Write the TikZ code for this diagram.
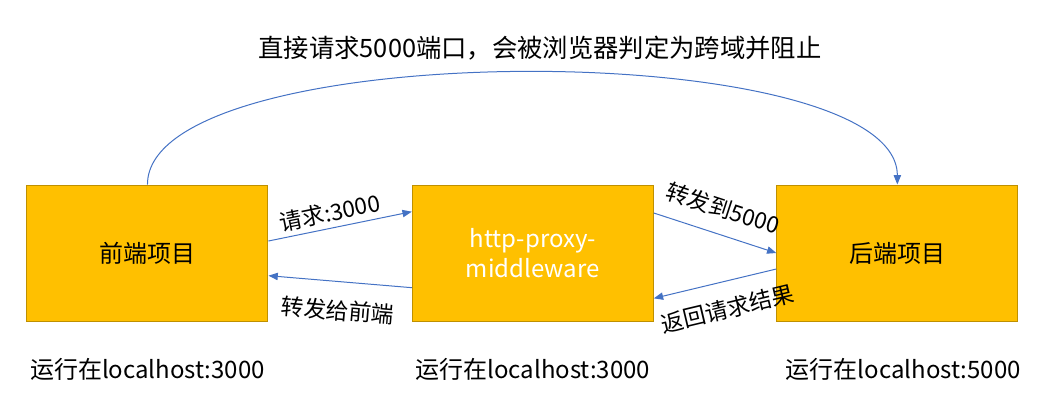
\documentclass[tikz,border=0pt]{standalone}
\usepackage{fontspec}
\setmainfont{Noto Sans CJK SC}
\usetikzlibrary{positioning,arrows.meta}

\definecolor{boxfill}{HTML}{FFC000}
\definecolor{boxline}{HTML}{BF9000}
\definecolor{linkblue}{HTML}{4472C4}

\tikzset{
	block/.style={draw=boxline, fill=boxfill, line width=0.75pt, minimum width=180.75pt, minimum height=102pt, font=\fontsize{18}{22}\selectfont},
	hint/.style={font=\fontsize{18}{22}\selectfont},
	tag/.style={font=\fontsize{17}{20}\selectfont, sloped, text=black}
}

\begin{document}
\begin{tikzpicture}[>={Triangle[length=7pt,width=5.5pt]}, node distance=2cm, on grid, line width=0.75pt]
	\useasboundingbox (0,0) rectangle (786pt,-303.75pt);
	
	\node[block] (front) at (110.6pt,-189.75pt) {前端项目};
	\node[block, text=white, align=center] (proxy) [right=289pt of front] {http-proxy-\\middleware};
	\node[block] (back) [right=273.4pt of proxy] {后端项目};
	
	\node[hint, font=\fontsize{19}{22}\selectfont] (title) at (405pt,-36pt) {直接请求5000端口，会被浏览器判定为跨域并阻止};
	\node[hint] (runfront) [below=87pt of front] {运行在localhost:3000};
	\node[hint] (runproxy) [below=87pt of proxy] {运行在localhost:3000};
	\node[hint] (runback) [below=87pt of back, xshift=4.5pt] {运行在localhost:5000};
	
	\path[->, color=linkblue]
		([yshift=9pt]front.east) edge node[tag, above, pos=0.45] {请求:3000} ([yshift=31pt]proxy.west)
		([yshift=-26pt]proxy.west) edge node[tag, below=10pt] {转发给前端} ([yshift=-17pt]front.east)
		([yshift=30pt]proxy.east) edge node[tag, above=8pt] {转发到5000} (back.west)
		([yshift=-12pt]back.west) edge node[tag, below=9pt, pos=0.45] {返回请求结果} ([yshift=-34pt]proxy.east);
	
	\draw[->, linkblue] (front.north) .. controls +(0,112pt) and +(0,112pt) .. (back.north);
\end{tikzpicture}
\end{document}
